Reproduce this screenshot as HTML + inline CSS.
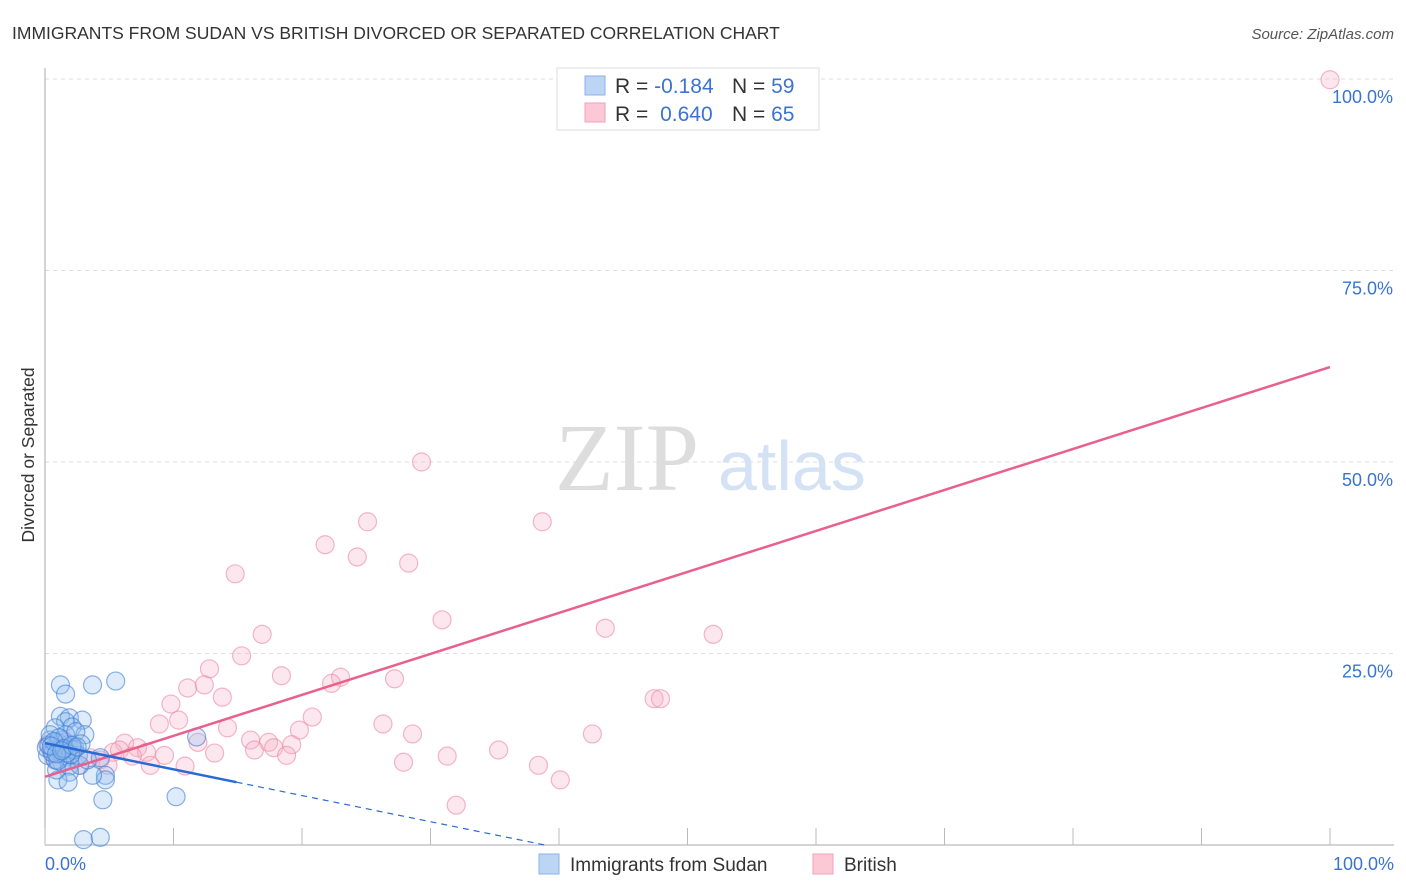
<!DOCTYPE html>
<html><head><meta charset="utf-8"><style>
body{margin:0;background:#fff;font-family:"Liberation Sans",sans-serif;}
svg{display:block}
</style></head><body>
<svg id="chart" width="1406" height="892">
<text x="12" y="39" font-size="17.5" fill="#333">IMMIGRANTS FROM SUDAN VS BRITISH DIVORCED OR SEPARATED CORRELATION CHART</text>
<text x="1394" y="39" font-size="15" fill="#555" font-style="italic" text-anchor="end">Source: ZipAtlas.com</text>
<text x="0" y="0" transform="translate(34,455) rotate(-90)" font-size="17.5" fill="#333" text-anchor="middle">Divorced or Separated</text>
<text x="555" y="490" font-size="96" fill="#ddd" font-family="Liberation Serif,serif">ZIP</text>
<text x="718" y="490" font-size="70" fill="#d3e2f5">atlas</text>
<g id="grid"></g><g id="pts"></g><g id="lines"></g>
<g>
<rect x="557" y="68" width="262" height="62" fill="#fff" stroke="#ddd"/>
<rect x="585" y="76" width="20" height="19" fill="#bcd5f5" stroke="#8ab2e8"/>
<rect x="585" y="103" width="20" height="19" fill="#fcc8d6" stroke="#f0a0b8"/>
<text x="615" y="93" font-size="21" fill="#333">R = <tspan fill="#3a74d0">-0.184</tspan><tspan x="732">N = </tspan><tspan fill="#3a74d0">59</tspan></text>
<text x="615" y="121" font-size="21" fill="#333">R = <tspan fill="#3a74d0" dx="6">0.640</tspan><tspan x="732">N = </tspan><tspan fill="#3a74d0">65</tspan></text>
</g>
<text x="45" y="870" font-size="18" fill="#3a74d0">0.0%</text>
<text x="1394" y="870" font-size="18" fill="#3a74d0" text-anchor="end">100.0%</text>
<rect x="539" y="854" width="20" height="20" fill="#bcd5f5" stroke="#8ab2e8"/>
<text x="570" y="871" font-size="19" fill="#333">Immigrants from Sudan</text>
<rect x="813" y="854" width="20" height="20" fill="#fcc8d6" stroke="#f0a0b8"/>
<text x="844" y="871" font-size="19" fill="#333">British</text>
</svg>
<script>
const yTicks=[25,50,75,100];
const yTickLabels=["25.0%","50.0%","75.0%","100.0%"];
const xTicks=[0,10,20,30,40,50,60,70,80,90,100];
const sudanX=[1.2,1.6,3.7,5.5,1.2,1.9,2.9,1.6,0.8,2.1,3.1,0.4,1.0,1.8,0.5,1.2,0.2,1.6,2.3,1.3,1.9,2.7,4.3,4.7,4.7,3.7,1.9,1.0,1.8,4.5,10.2,11.8,3.0,4.3,0.8,0.1,1.4,2.6,3.3,0.9,0.4,1.6,2.2,0.6,1.0,1.4,0.3,2.0,1.1,2.4,0.7,1.7,2.8,0.5,1.5,2.1,0.9,1.3,2.5];
const sudanY=[20.9,19.7,20.9,21.4,16.8,16.6,16.3,16.1,15.3,15.4,14.4,13.7,13.4,13.1,12.4,12.1,11.7,11.5,12.7,10.8,10.3,10.4,11.4,9.1,8.5,9.1,9.5,8.5,8.2,5.9,6.3,14.1,0.7,1.0,11.1,12.7,13.7,11.7,11.1,9.8,14.4,14.4,12.4,12.0,11.0,12.5,13.0,11.8,14.0,14.8,13.5,12.0,13.2,12.9,12.6,13.0,11.9,12.3,12.8];
const britX=[100,29.3,25.1,38.7,21.8,24.3,28.3,14.8,30.9,43.6,52.0,16.9,15.3,12.8,18.4,23.0,22.3,27.2,11.1,12.4,13.8,9.8,47.4,47.9,20.8,8.9,10.4,14.2,26.3,19.8,42.6,28.6,11.9,16.0,17.4,17.8,19.2,16.3,18.8,13.2,35.3,31.3,6.2,7.2,5.3,7.9,9.3,8.2,10.9,27.9,38.4,40.1,32.0,4.3,3.5,2.7,1.2,0.5,1.6,0.8,1.9,0.2,5.8,6.8,4.9];
const britY=[99.9,50.0,42.2,42.2,39.2,37.6,36.8,35.4,29.4,28.3,27.5,27.5,24.7,23.0,22.1,21.9,21.1,21.7,20.5,20.9,19.3,18.4,19.1,19.1,16.7,15.8,16.3,15.3,15.8,15.0,14.5,14.5,13.4,13.7,13.4,12.7,13.1,12.4,11.7,12.0,12.4,11.6,13.3,12.7,12.1,12.1,11.7,10.4,10.3,10.8,10.4,8.5,5.2,11.1,11.4,10.4,12.7,12.1,13.4,11.1,11.7,13.1,12.4,11.6,10.4];
const britTrend=[8.9,62.4];
const sudanTrend=[13.3,8.2,14.9,38.9];
const NS="http://www.w3.org/2000/svg";
const X=v=>45+v*12.85, Y=v=>845-v*7.66;
function mk(t,a,p){const e=document.createElementNS(NS,t);for(const k in a)e.setAttribute(k,a[k]);p.appendChild(e);return e;}
const g=document.getElementById('grid');
yTicks.forEach((t,i)=>{
 const l=mk('line',{x1:45,x2:1394,y1:Y(t),y2:Y(t),stroke:'#ddd','stroke-dasharray':'4 4'},g);
 
 
 const tx=mk('text',{x:1393,y:Y(t)+24,'font-size':18,fill:'#3a74d0','text-anchor':'end'},g);
 tx.textContent=yTickLabels[i];
 
 
});
const ax=mk('line',{x1:45,x2:1394,y1:845,y2:845,stroke:'#aaa'},g);


const ay=mk('line',{x1:45,x2:45,y1:68,y2:845,stroke:'#aaa'},g);


xTicks.forEach(t=>{
 const l=mk('line',{x1:X(t),x2:X(t),y1:828,y2:845,stroke:'#bbb'},g);
 
 
});
const p=document.getElementById('pts');
britX.forEach((v,i)=>{
 const c=mk('circle',{cx:X(v),cy:Y(britY[i]),r:9,fill:'rgba(248,175,198,0.3)',stroke:'rgba(235,135,165,0.6)','stroke-width':1.2},p);
 
 
});
sudanX.forEach((v,i)=>{
 const c=mk('circle',{cx:X(v),cy:Y(sudanY[i]),r:9,fill:'rgba(145,188,240,0.3)',stroke:'rgba(60,125,215,0.6)','stroke-width':1.2},p);
 
 
});
const L=document.getElementById('lines');
const bl=mk('line',{x1:X(0),y1:Y(britTrend[0]),x2:X(100),y2:Y(britTrend[1]),stroke:'#e8608c','stroke-width':2.5},L);


const sl=mk('line',{x1:X(0),y1:Y(sudanTrend[0]),x2:X(sudanTrend[2]),y2:Y(sudanTrend[1]),stroke:'#2a6ad4','stroke-width':2.5},L);


const sd=mk('line',{x1:X(sudanTrend[2]),y1:Y(sudanTrend[1]),x2:X(sudanTrend[3]),y2:Y(0),stroke:'#2a6ad4','stroke-width':1.2,'stroke-dasharray':'6 5'},L);


</script>
</body></html>
